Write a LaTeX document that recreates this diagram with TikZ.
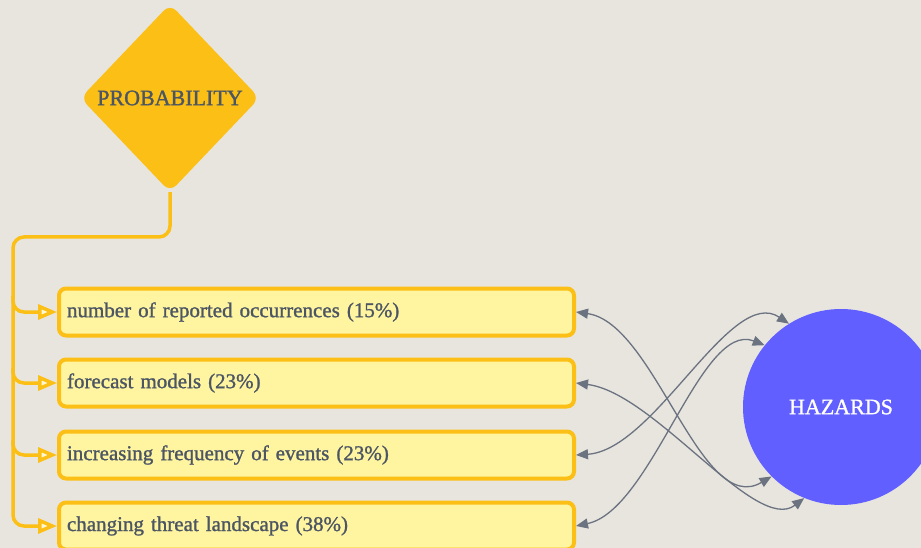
\documentclass[tikz,border=0pt]{standalone}
\usepackage{fontspec}
\setmainfont{Liberation Serif}[FakeBold=1.2]
\usetikzlibrary{shapes.geometric,arrows.meta}

\definecolor{paper}{RGB}{232,229,223}
\definecolor{amber}{RGB}{251,191,21}
\definecolor{pale}{RGB}{255,245,160}
\definecolor{tipfill}{RGB}{255,248,215}
\definecolor{slate}{RGB}{75,85,99}
\definecolor{wire}{RGB}{107,114,128}
\definecolor{violet}{RGB}{97,95,255}

\tikzset{
  factor/.style={draw=amber, fill=pale, line width=4pt, rounded corners=7pt,
    minimum height=47pt, text width=499pt, inner xsep=8pt, align=left,
    anchor=west, text=slate, font=\fontsize{21}{24}\selectfont},
  trunk/.style={draw=amber, line width=3.5pt, rounded corners=11pt},
  feed/.style={trunk, -{Triangle[open, length=19pt, width=15pt, fill=tipfill]}},
  link/.style={draw=wire, line width=1.3pt,
    {Triangle[length=12pt, width=10pt]}-{Triangle[length=12pt, width=10pt]}},
}

\begin{document}
\begin{tikzpicture}[x=1pt, y=-1pt]
  % canvas
  \fill[paper] (0,0) rectangle (921,548);
  \useasboundingbox (0,0) rectangle (921,548);
  \clip (0,0) rectangle (921,548);

  % top-level factor
  \node[diamond, fill=amber, minimum width=179pt, minimum height=188pt,
        rounded corners=9pt, inner sep=0pt, text=slate,
        font=\fontsize{22}{26}\selectfont] (prob) at (170,98) {PROBABILITY};

  % contributing factors
  \node[factor] (b1) at (57,312) {number of reported occurrences (15\%)};
  \node[factor] (b2) at (57,383) {forecast models (23\%)};
  \node[factor] (b3) at (57,455) {increasing frequency of events (23\%)};
  \node[factor] (b4) at (57,526) {changing threat landscape (38\%)};

  % target
  \node[circle, fill=violet, minimum size=196pt, inner sep=0pt, text=white,
        font=\fontsize{22}{26}\selectfont] (hz) at (841,407) {HAZARDS};

  % branching connector from the diamond
  \coordinate (elbow) at (170,237);
  \coordinate (corner) at (13,237);
  \coordinate (t1) at (13,296);
  \coordinate (t2) at (13,368);
  \coordinate (t3) at (13,440);
  \draw[feed] (prob.south) -- (elbow) -- (corner) |- (b4.west);
  \draw[feed] (t1) |- (b1.west);
  \draw[feed] (t2) |- (b2.west);
  \draw[feed] (t3) |- (b3.west);

  % crossing links to the target
  \draw[link] (b1.east) .. controls +(79,11) and +(-71,42) .. (hz.225);
  \draw[link] (b2.east) .. controls +(79,10) and +(-48,37) .. (hz.248);
  \draw[link] (b3.east) .. controls +(79,-5) and +(-58,-39) .. (hz.122);
  \draw[link] (b4.east) .. controls +(76,-16) and +(-64,-25) .. (hz.141);
\end{tikzpicture}
\end{document}
